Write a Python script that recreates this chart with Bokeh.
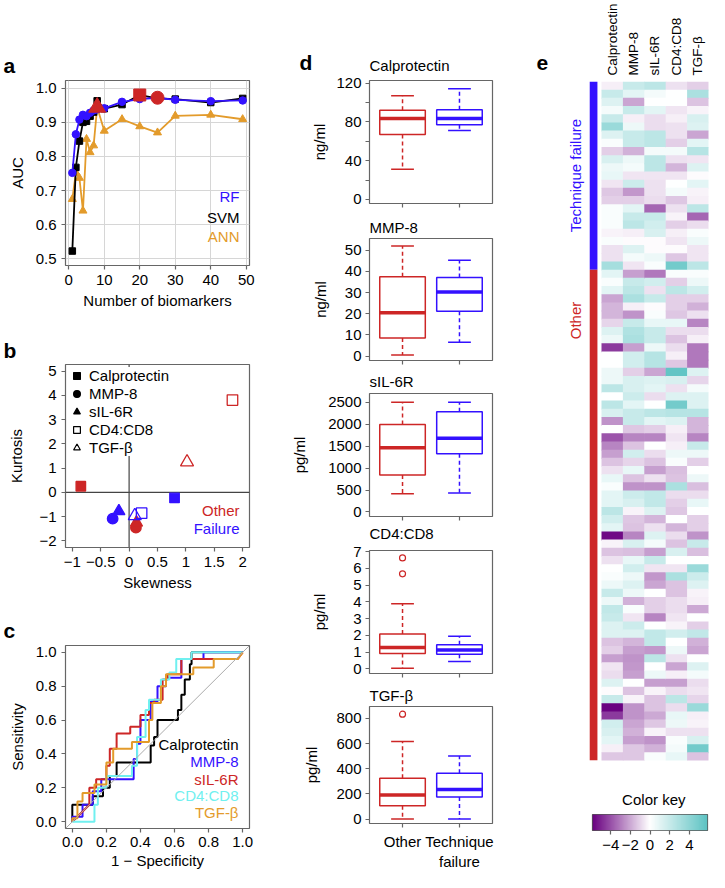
import numpy as np
from bokeh.plotting import figure
from bokeh.models import (Range1d, FixedTicker, Label, Span, Slope, Legend, LegendItem,
                          LinearColorMapper, ColumnDataSource)
from bokeh.layouts import row, column
from bokeh.embed import file_html
from bokeh.resources import INLINE
from bokeh.transform import transform

FONT = "Liberation Sans"
FS = "15px"
RED = "#CD2626"
BLUE = "#3311FF"
ORANGE = "#E39B2B"
CYAN = "#70F0F0"
FRAME = "#666666"

# ---------------- data: (a) AUC vs number of biomarkers ----------------
n_biomarkers = [1, 2, 3, 4, 5, 6, 7, 8, 10, 15, 20, 25, 30, 40, 49]
auc_rf = [0.752, 0.865, 0.908, 0.922, 0.918, 0.928, 0.935, 0.938, 0.941, 0.960, 0.968, 0.972, 0.966, 0.962, 0.964]
auc_svm = [0.523, 0.768, 0.845, 0.900, 0.903, 0.918, 0.930, 0.963, 0.940, 0.952, 0.980, 0.970, 0.968, 0.958, 0.970]
auc_ann = [0.675, 0.753, 0.737, 0.641, 0.851, 0.812, 0.832, 0.944, 0.875, 0.909, 0.888, 0.870, 0.919, 0.922, 0.909]

# ---------------- data: (b) skewness / kurtosis ----------------
b_markers = ["Calprotectin", "MMP-8", "sIL-6R", "CD4:CD8", "TGF-β"]
skew_other = [-0.85, 0.12, 0.13, 1.82, 1.02]
kurt_other = [0.25, -1.46, -1.25, 3.81, 1.25]
skew_failure = [0.80, -0.29, -0.18, 0.22, 0.10]
kurt_failure = [-0.23, -1.09, -0.78, -0.86, -0.97]

# ---------------- data: (c) ROC curves ----------------
roc_calprotectin_fpr = [0, 0, 0.12, 0.12, 0.18, 0.18, 0.22, 0.22, 0.26, 0.26, 0.46, 0.46, 0.48, 0.48, 0.50, 0.50,
                        0.62, 0.62, 0.64, 0.64, 0.66, 0.66, 0.69, 0.69, 0.70, 0.70, 1.0]
roc_calprotectin_tpr = [0, 0.10, 0.10, 0.15, 0.15, 0.20, 0.20, 0.27, 0.27, 0.35, 0.35, 0.45, 0.45, 0.50, 0.50, 0.60,
                        0.60, 0.66, 0.66, 0.75, 0.75, 0.84, 0.84, 0.93, 0.93, 1.0, 1.0]
roc_mmp8_fpr = [0, 0, 0.06, 0.06, 0.12, 0.12, 0.17, 0.17, 0.36, 0.36, 0.38, 0.38, 0.40, 0.40, 0.46, 0.46,
                0.50, 0.50, 0.55, 0.55, 0.64, 0.64, 0.77, 0.77, 1.0]
roc_mmp8_tpr = [0, 0.03, 0.03, 0.10, 0.10, 0.18, 0.18, 0.25, 0.25, 0.37, 0.37, 0.46, 0.46, 0.60, 0.60, 0.71,
                0.71, 0.80, 0.80, 0.85, 0.85, 0.96, 0.96, 1.0, 1.0]
roc_sil6r_fpr = [0, 0.10, 0.10, 0.14, 0.14, 0.20, 0.20, 0.22, 0.22, 0.26, 0.26, 0.34, 0.34, 0.40, 0.40, 0.45,
                 0.45, 0.48, 0.48, 0.53, 0.53, 0.56, 0.56, 0.64, 0.64, 0.97, 1.0]
roc_sil6r_tpr = [0, 0.10, 0.20, 0.20, 0.25, 0.25, 0.33, 0.33, 0.43, 0.43, 0.52, 0.52, 0.56, 0.56, 0.63, 0.63,
                 0.70, 0.70, 0.72, 0.72, 0.84, 0.84, 0.87, 0.87, 0.96, 0.96, 1.0]
roc_cd4cd8_fpr = [0, 0.13, 0.13, 0.15, 0.15, 0.20, 0.20, 0.35, 0.35, 0.38, 0.38, 0.43, 0.43, 0.45, 0.45, 0.52,
                  0.52, 0.57, 0.57, 0.61, 0.61, 0.70, 0.70, 1.0]
roc_cd4cd8_tpr = [0, 0, 0.10, 0.10, 0.20, 0.20, 0.27, 0.27, 0.33, 0.33, 0.50, 0.50, 0.66, 0.66, 0.72, 0.72,
                  0.84, 0.84, 0.88, 0.88, 0.96, 0.96, 1.0, 1.0]
roc_tgfb_fpr = [0, 0, 0.03, 0.03, 0.06, 0.06, 0.13, 0.13, 0.20, 0.20, 0.24, 0.24, 0.35, 0.35, 0.45, 0.45,
                0.47, 0.47, 0.52, 0.52, 0.55, 0.55, 0.71, 0.71, 0.83, 0.83, 0.97, 1.0]
roc_tgfb_tpr = [0, 0.02, 0.02, 0.12, 0.12, 0.17, 0.17, 0.22, 0.22, 0.35, 0.35, 0.43, 0.43, 0.47, 0.47, 0.60,
                0.60, 0.70, 0.70, 0.80, 0.80, 0.87, 0.87, 0.91, 0.91, 0.96, 0.96, 1.0]

# ---------------- data: (d) box plots [low whisker, Q1, median, Q3, high whisker] ----------------
box_groups = ["Other", "Technique\nfailure"]
calprotectin_other = [31, 67, 83.5, 92, 107]
calprotectin_failure = [71, 77, 83.5, 92.5, 114]
mmp8_other = [0.5, 8.5, 20.5, 37.5, 52]
mmp8_failure = [6.5, 21.2, 30.3, 37.1, 45.3]
sil6r_other = [416, 841, 1461, 1991, 2500]
sil6r_failure = [432, 1325, 1682, 2286, 2500]
cd4cd8_other = [0.04, 0.92, 1.28, 2.09, 3.88]
cd4cd8_failure = [0.44, 0.88, 1.13, 1.45, 1.95]
cd4cd8_other_outliers = [5.67, 6.62]
tgfb_other = [0, 106, 192, 324, 617]
tgfb_failure = [0, 175, 235, 364, 501]
tgfb_other_outliers = [833]

# ---------------- data: (e) heatmap (rows top to bottom) ----------------
heat_columns = ["Calprotectin", "MMP-8", "sIL-6R", "CD4:CD8", "TGF-β"]
n_technique_failure = 23
n_other = 60
heat_calprotectin = [-0.4, 2.0, 1.2, 0.4, 2.0, 3.6, 1.2, 0.2, -1.1, 1.4,
                     0.6, 0.8, -0.6, -1.3, -1.1, 0.2, 0.2, 0.2, -0.3, 0.2,
                     -0.7, -0.7, 3.2, 1.0, 0.2, 1.0, -2.1, -1.7, -1.7, -1.0,
                     1.2, 0.6, -4.5, 0.0, 0.0, 0.6, 0.6, 2.4, 0.0, 2.4,
                     1.4, -2.5, 0.0, -3.9, -2.8, -2.2, -1.4, -0.7, 0.8, 0.2,
                     1.0, 1.0, 2.4, 1.6, 1.0, -5.6, -0.3, -1.4, -0.7, 0.0,
                     0.2, 0.6, 2.0, 0.6, 2.2, 2.0, 1.2, 1.2, -1.4, -1.1,
                     -2.2, -0.6, -0.8, 1.2, -0.1, 2.0, -5.8, -4.5, 1.6, 1.4,
                     1.0, -0.4, -1.3]
heat_mmp8 = [2.0, 1.0, -2.1, 2.0, -0.4, 0.6, 2.0, 2.0, -1.8, 0.6,
             0.4, -0.6, 1.8, -2.4, -1.1, 1.0, 2.0, 2.4, -0.4, -0.1,
             1.2, 0.4, -0.6, -2.2, 2.0, 2.4, 3.0, -0.4, -2.5, 2.0,
             2.8, 3.0, -2.2, 1.6, 1.6, -1.1, 1.4, 1.4, 1.8, 1.0,
             2.0, 2.0, -1.3, -2.8, -1.4, 1.6, -1.0, 0.8, -1.4, -2.5,
             1.8, 1.4, -0.3, -1.3, -1.4, -2.8, 1.4, -1.5, 0.8, 1.6,
             0.6, 1.2, 0.6, -1.8, 0.2, -0.6, 1.8, 1.2, -1.7, -2.2,
             -2.5, -2.4, -2.2, 0.0, -1.4, -0.3, -2.5, -2.5, -2.1, -1.8,
             -2.2, -1.3, -1.3]
heat_sil6r = [2.4, 0.4, 0.0, 1.0, -0.8, -0.8, 2.4, 2.4, 0.4, 2.4,
              2.4, -0.6, -0.7, -0.7, -0.8, -3.5, 2.0, 1.6, 1.4, -0.1,
              -0.1, 0.6, 0.2, -3.1, 1.6, -0.7, 2.0, -0.1, 0.2, 0.8,
              2.0, 2.0, 0.6, 2.6, 2.6, -2.1, 1.2, 1.0, -0.8, 0.0,
              2.4, 1.0, -1.1, -2.8, 0.0, -0.8, -1.4, -2.2, -0.7, -2.5,
              2.2, 2.2, 1.2, -1.7, -0.7, 1.2, 0.4, -2.2, 2.0, -0.6,
              -2.4, -2.1, 0.0, -1.1, -1.1, -2.8, 0.0, 2.2, 2.2, -2.4,
              2.4, 0.0, 0.6, -2.2, -0.3, -1.4, -1.4, -2.0, -1.3, -0.3,
              -2.5, -1.8, 0.2]
heat_cd4cd8 = [-0.7, 0.0, 0.0, -0.6, -0.4, -0.7, -0.7, -1.1, 0.4, -0.7,
               -1.7, -0.6, 0.0, 0.4, -1.3, -0.7, -0.3, -1.1, -0.4, -0.6,
               -0.1, -1.3, 5.0, 0.2, -1.1, 2.4, -1.1, -1.1, -1.3, 0.8,
               -0.8, -1.4, -0.8, -0.4, -1.3, 5.6, 1.4, -0.7, 1.2, 5.0,
               2.6, 1.2, -0.4, -0.6, -0.4, 0.6, 0.2, -1.5, -1.4, 3.0,
               -0.8, -1.1, -1.3, 0.0, -1.7, -0.8, -1.4, 1.4, 0.0, -0.6,
               3.0, -1.4, -1.4, -0.8, -0.8, -0.6, -0.3, 1.6, 0.0, 0.6,
               -0.7, -2.1, -0.4, -2.2, -0.8, 2.4, -0.8, 0.8, 0.6, -0.7,
               0.2, 0.4, 0.8]
heat_tgfb = [-1.1, 3.0, -1.4, -0.3, 1.4, 1.2, -2.1, 1.0, 2.6, -0.6,
             1.2, -0.1, 1.0, -0.3, -0.4, 2.4, -3.5, -0.8, 0.2, 0.6,
             -0.6, -0.6, 2.4, 0.2, 0.6, 1.6, -1.1, -1.8, -0.7, -2.8,
             -0.8, -0.4, -3.1, -3.1, -3.1, 1.2, -1.0, 0.4, 1.2, 1.2,
             2.6, -1.7, -1.7, -2.8, 2.0, 0.6, -1.1, 0.0, 0.6, -1.5,
             -0.8, 0.8, 0.0, -1.1, -1.1, -2.5, 2.0, -1.5, 0.0, 3.6,
             1.8, 1.2, -0.3, -0.4, -2.0, 0.0, -1.1, 2.2, -1.8, -2.1,
             0.0, 1.2, 0.4, -0.8, -0.6, -1.0, 3.6, -0.4, -0.3, -0.7,
             1.4, 5.0, -1.4]
key_low, key_high = -5.85, 5.85
key_ticks = [-4, -2, 0, 2, 4]


# ---------------- helpers ----------------
def tkey(v):
    return int(v) if float(v).is_integer() else float(v)


def fmt(v):
    return ("%g" % v).replace("-", "−")


def set_ticks(ax, ticks, labels=None):
    if labels is None:
        labels = [fmt(t) for t in ticks]
    ax.ticker = FixedTicker(ticks=list(ticks))
    ax.major_label_overrides = {tkey(t): l for t, l in zip(ticks, labels)}


def mk(x0, y0, w, h, bl, br, bt, bb, xr, yr, **kw):
    p = figure(width=w, height=h, x_range=Range1d(*xr), y_range=Range1d(*yr),
               min_border_left=bl, min_border_right=br, min_border_top=bt, min_border_bottom=bb,
               output_backend="svg", toolbar_location=None, **kw)
    p.title.visible = False
    p.outline_line_color = FRAME
    p.outline_line_width = 1.2
    p.background_fill_color = "white"
    p.border_fill_color = "white"
    p.xgrid.visible = False
    p.ygrid.visible = False
    for ax in p.axis:
        ax.axis_line_color = None
        ax.major_tick_line_color = FRAME
        ax.major_tick_line_width = 1.2
        ax.major_tick_out = 4
        ax.major_tick_in = 0
        ax.minor_tick_line_color = None
        ax.major_label_text_font = FONT
        ax.major_label_text_font_size = FS
        ax.major_label_text_color = "black"
        ax.major_label_standoff = 5
        ax.axis_label_text_font = FONT
        ax.axis_label_text_font_size = FS
        ax.axis_label_text_font_style = "normal"
        ax.axis_label_text_color = "black"
    info = dict(box=(x0 + bl, y0 + bt, x0 + w - br, y0 + h - bb), xr=xr, yr=yr)
    return p, info


def strip(x0, y0, w, h):
    """A plain text band: its frame is the whole band, one unit = one pixel."""
    p = figure(width=w, height=h, x_range=Range1d(0, w), y_range=Range1d(h, 0),
               min_border_left=0, min_border_right=0, min_border_top=0, min_border_bottom=0,
               x_axis_location=None, y_axis_location=None,
               output_backend="svg", toolbar_location=None)
    p.title.visible = False
    p.outline_line_color = None
    p.xgrid.visible = False
    p.ygrid.visible = False
    p.background_fill_color = "white"
    p.border_fill_color = "white"
    return p, dict(box=(x0, y0, x0 + w, y0 + h), xr=(0, w), yr=(h, 0))


def put(fi, px, py, text, size=FS, color="black", align="left", baseline="middle",
        angle=0.0, style="normal"):
    p, info = fi
    l, t, r, b = info["box"]
    xr, yr = info["xr"], info["yr"]
    x = xr[0] + (px - l) / (r - l) * (xr[1] - xr[0])
    y = yr[1] + (py - t) / (b - t) * (yr[0] - yr[1])
    p.add_layout(Label(x=x, y=y, text=text, text_font=FONT, text_font_size=size,
                       text_color=color, text_align=align, text_baseline=baseline,
                       angle=angle, text_font_style=style))


def letter(fi, px, py, t):
    # py is the vertical middle of the letter
    put(fi, px, py, t, size="21px", baseline="middle", style="bold")


def stack(figs):
    # each figure sits in its own row so that the column does not re-align the frames
    return column(*[row(f) for f in figs])


# ================= column 1 (x 8..264) =================
S_a = strip(8, 8, 256, 79)
letter(S_a, 11, 73, "a")

# (a)
A = mk(8, 87, 256, 241, 65, 7, 1, 55, (-0.92, 50.92), (0.4807, 1.0225))
pa = A[0]
pa.xgrid.visible = True
pa.ygrid.visible = True
pa.xgrid.grid_line_color = "#D6D6D6"
pa.ygrid.grid_line_color = "#D6D6D6"
set_ticks(pa.xaxis[0], [0, 10, 20, 30, 40, 50])
set_ticks(pa.yaxis[0], [0.5, 0.6, 0.7, 0.8, 0.9, 1.0], ["0.5", "0.6", "0.7", "0.8", "0.9", "1.0"])
pa.xaxis.axis_label = "Number of biomarkers"
pa.yaxis.axis_label = "AUC"
pa.xaxis.axis_label_standoff = 4
pa.yaxis.axis_label_standoff = 7
for ys, col, mk_, sz in [(auc_ann, ORANGE, "triangle", 8), (auc_svm, "black", "square", 6.5),
                         (auc_rf, BLUE, "circle", 7.5)]:
    pa.line(n_biomarkers, ys, line_color=col, line_width=1.8)
    pa.scatter(n_biomarkers, ys, marker=mk_, size=sz, fill_color=col, line_color=col)
for ys, mk_, sz in [(auc_ann, "triangle", 17), (auc_svm, "square", 12), (auc_rf, "circle", 13)]:
    i = int(np.argmax(ys))
    pa.scatter([n_biomarkers[i]], [ys[i]], marker=mk_, size=sz, fill_color=RED, line_color=RED)
put(A, 247, 204, "RF", color=BLUE, align="right")
put(A, 247, 225, "SVM", color="black", align="right")
put(A, 247, 244, "ANN", color=ORANGE, align="right")

S_b = strip(8, 328, 256, 43)
letter(S_b, 11, 357.5, "b")

# (b)
B = mk(8, 371, 256, 235, 65, 7, 1, 51, (-1.12, 2.12), (-2.28, 5.28))
pb = B[0]
set_ticks(pb.xaxis[0], [-1, -0.5, 0, 0.5, 1, 1.5, 2])
set_ticks(pb.yaxis[0], [-2, -1, 0, 1, 2, 3, 4, 5])
pb.xaxis.axis_label = "Skewness"
pb.yaxis.axis_label = "Kurtosis"
pb.xaxis.axis_label_standoff = 4
pb.yaxis.axis_label_standoff = 11
pb.add_layout(Span(location=0, dimension="height", line_color="#444444", line_width=1.2, level="underlay"))
pb.add_layout(Span(location=0, dimension="width", line_color="#444444", line_width=1.2, level="underlay"))
b_shape = ["square", "circle", "triangle", "square", "triangle"]
b_fill = [True, True, True, False, False]
b_size = [9.5, 10.5, 12, 10.5, 13]
for sx, sy, col in [(skew_other, kurt_other, RED), (skew_failure, kurt_failure, BLUE)]:
    for i in range(len(b_markers)):
        pb.scatter([sx[i]], [sy[i]], marker=b_shape[i], size=b_size[i],
                   fill_color=col if b_fill[i] else None, line_color=col, line_width=1.3)
leg_items = []
for i, name in enumerate(b_markers):
    r = pb.scatter([float("nan")], [float("nan")], marker=b_shape[i], size=9,
                   fill_color="black" if b_fill[i] else None, line_color="black", line_width=1.2)
    leg_items.append(LegendItem(label=name, renderers=[r]))
lg = Legend(items=leg_items, location="top_left", margin=3, padding=4, spacing=1,
            glyph_width=17, glyph_height=17, label_height=17, label_standoff=4,
            label_text_font=FONT, label_text_font_size=FS, label_text_color="black",
            border_line_color=None, background_fill_color="white", background_fill_alpha=1.0)
pb.add_layout(lg)
put(B, 247, 518.3, "Other", color=RED, align="right")
put(B, 247, 536, "Failure", color=BLUE, align="right")

S_c = strip(8, 606, 256, 46)
letter(S_c, 11, 638, "c")

# (c)
C = mk(8, 652, 256, 228, 65, 7, 1, 44, (-0.04, 1.04), (-0.04, 1.04))
pc = C[0]
tk = [0, 0.2, 0.4, 0.6, 0.8, 1.0]
tl = ["0.0", "0.2", "0.4", "0.6", "0.8", "1.0"]
set_ticks(pc.xaxis[0], tk, tl)
set_ticks(pc.yaxis[0], tk, tl)
pc.xaxis.axis_label = "1 − Specificity"
pc.yaxis.axis_label = "Sensitivity"
pc.xaxis.major_label_standoff = 4
pc.xaxis.axis_label_standoff = 2
pc.yaxis.axis_label_standoff = 7
pc.add_layout(Slope(gradient=1, y_intercept=0, line_color="#AAAAAA", line_width=1))
for fx, fy, col in [(roc_calprotectin_fpr, roc_calprotectin_tpr, "black"),
                    (roc_mmp8_fpr, roc_mmp8_tpr, BLUE),
                    (roc_sil6r_fpr, roc_sil6r_tpr, RED),
                    (roc_cd4cd8_fpr, roc_cd4cd8_tpr, CYAN),
                    (roc_tgfb_fpr, roc_tgfb_tpr, ORANGE)]:
    pc.line(fx, fy, line_color=col, line_width=2)
for name, col, yy in zip(b_markers, ["black", BLUE, RED, CYAN, ORANGE],
                         [751.7, 769.3, 786.7, 803.3, 820]):
    put(C, 246, yy, name, color=col, align="right")

col1 = stack([S_a[0], A[0], S_b[0], B[0], S_c[0], C[0]])

# ================= column 2 (x 264..570): (d) =================
d_specs = [
    ("Calprotectin", "ng/ml", calprotectin_other, calprotectin_failure, [], (-4.2, 122.6),
     [0, 20, 40, 60, 80, 100, 120], ["0", "", "40", "", "80", "", "120"], 5),
    ("MMP-8", "ng/ml", mmp8_other, mmp8_failure, [], (-2.1, 55.6),
     [0, 10, 20, 30, 40, 50], None, 13),
    ("sIL-6R", "pg/ml", sil6r_other, sil6r_failure, [], (-104, 2700),
     [0, 500, 1000, 1500, 2000, 2500], None, 17),
    ("CD4:CD8", "pg/ml", cd4cd8_other, cd4cd8_failure, cd4cd8_other_outliers, (-0.27, 7.06),
     [0, 1, 2, 3, 4, 5, 6, 7], None, 22),
    ("TGF-β", "pg/ml", tgfb_other, tgfb_failure, tgfb_other_outliers, (-35, 894),
     [0, 200, 400, 600, 800], None, 13),
]
s_y0 = [8, 217, 374, 529, 687]
s_h = [74, 28, 24, 21, 26]
d_h = [135, 129, 131, 137, 167]
d_bt = [6, 1, 3, 8, 1]
d_bb = [6, 6, 5, 6, 43]
col2_items = []
for k, (title, unit, so, sf, outl, yr, yt, ytl, std) in enumerate(d_specs):
    S = strip(264, s_y0[k], 306, s_h[k])
    D = mk(264, s_y0[k] + s_h[k], 306, d_h[k], 113, 70, d_bt[k], d_bb[k], (0.42, 2.58), yr)
    p = D[0]
    set_ticks(p.yaxis[0], yt, ytl)
    p.yaxis.major_label_standoff = 4
    p.yaxis.axis_label = unit
    p.yaxis.axis_label_standoff = std
    if k == 4:
        set_ticks(p.xaxis[0], [1, 2], box_groups)
        p.xaxis.major_label_standoff = 5
    else:
        set_ticks(p.xaxis[0], [1, 2], ["", ""])
        p.xaxis.major_label_text_font_size = "0px"
        p.xaxis.major_label_standoff = 0
    for xpos, stats, col, outs in [(1, so, RED, outl), (2, sf, BLUE, [])]:
        lo, q1, med, q3, hi = stats
        p.quad(left=[xpos - 0.4], right=[xpos + 0.4], bottom=[q1], top=[q3],
               fill_color=None, line_color=col, line_width=1.5)
        p.segment(x0=[xpos, xpos], y0=[q3, q1], x1=[xpos, xpos], y1=[hi, lo],
                  line_color=col, line_width=1.5, line_dash="4 3")
        p.segment(x0=[xpos - 0.2, xpos - 0.2], y0=[hi, lo], x1=[xpos + 0.2, xpos + 0.2], y1=[hi, lo],
                  line_color=col, line_width=1.5)
        p.segment(x0=[xpos - 0.4], y0=[med], x1=[xpos + 0.4], y1=[med],
                  line_color=col, line_width=3.5)
        if outs:
            p.scatter([xpos] * len(outs), outs, marker="circle", size=6, fill_color=None,
                      line_color=col, line_width=1.2)
    l, t, r, b = D[1]["box"]
    title_mid = min(t - 11.5, s_y0[k] + s_h[k] - 8.6)
    put(S, l, title_mid, title, baseline="middle")
    if k == 0:
        letter(S, 307, 70, "d")
        letter(S, 544, 70, "e")
    col2_items += [S[0], p]

col2 = stack(col2_items)

# ================= column 3 (x 570..717): (e) =================
def ramp(c1, c2, n):
    a = np.array([int(c1[i:i + 2], 16) for i in (1, 3, 5)], float)
    b = np.array([int(c2[i:i + 2], 16) for i in (1, 3, 5)], float)
    return ["#%02x%02x%02x" % tuple(int(round(v)) for v in a + (b - a) * s)
            for s in np.linspace(0, 1, n)]


palette = ramp("#690080", "#FFFFFF", 128) + ramp("#FFFFFF", "#5CC3C3", 129)[1:]
mapper = LinearColorMapper(palette=palette, low=key_low, high=key_high)

n_rows = n_technique_failure + n_other
E = mk(570, 8, 147, 782, 0, 1, 81, 22, (-1.8224, 5.0), (n_rows, 0),
       x_axis_location="above", y_axis_location=None)
pe = E[0]
pe.outline_line_color = None
ax = pe.xaxis[0]
set_ticks(ax, [j + 0.5 for j in range(len(heat_columns))], heat_columns)
ax.major_label_orientation = "vertical"
ax.major_tick_out = 0
ax.major_tick_line_color = None
ax.major_label_standoff = 6
ax.major_label_text_font_size = "13.5px"

heat_cols = [heat_calprotectin, heat_mmp8, heat_sil6r, heat_cd4cd8, heat_tgfb]
hx, hy, hv = [], [], []
for j, cv in enumerate(heat_cols):
    for i, v in enumerate(cv):
        hx.append(j + 0.5)
        hy.append(i + 0.5)
        hv.append(v)
pe.rect(x="x", y="y", width=1, height=1, source=ColumnDataSource(dict(x=hx, y=hy, v=hv)),
        fill_color=transform("v", mapper), line_color=None, dilate=True)
bounds = np.cumsum([0, n_technique_failure, n_other])
pe.quad(left=[-0.55, -0.55], right=[-0.19, -0.19], top=[bounds[0], bounds[1]],
        bottom=[bounds[1], bounds[2]], fill_color=[BLUE, RED], line_color=None)
l, t, r, b = E[1]["box"]
put(E, 583.3, t + (n_technique_failure / 2) / n_rows * (b - t), "Technique failure",
    color=BLUE, align="center", angle=np.pi / 2)
put(E, 583.3, 328, "Other", color=RED, align="center", angle=np.pi / 2)

S_k = strip(570, 790, 147, 31)
put(S_k, 661.3, 807, "Color key", align="center")

K = mk(570, 821, 147, 59, 30, 2, 1, 42, (key_low, key_high), (0, 1), y_axis_location=None)
pk = K[0]
set_ticks(pk.xaxis[0], key_ticks)
pk.image(image=[np.linspace(key_low, key_high, 256).reshape(1, -1)], x=key_low, y=0,
         dw=key_high - key_low, dh=1, color_mapper=mapper)
pk.outline_line_color = "#555555"

col3 = stack([pe, S_k[0], pk])

layout = row(col1, col2, col3)
open("out.html", "w").write(file_html(layout, INLINE))
